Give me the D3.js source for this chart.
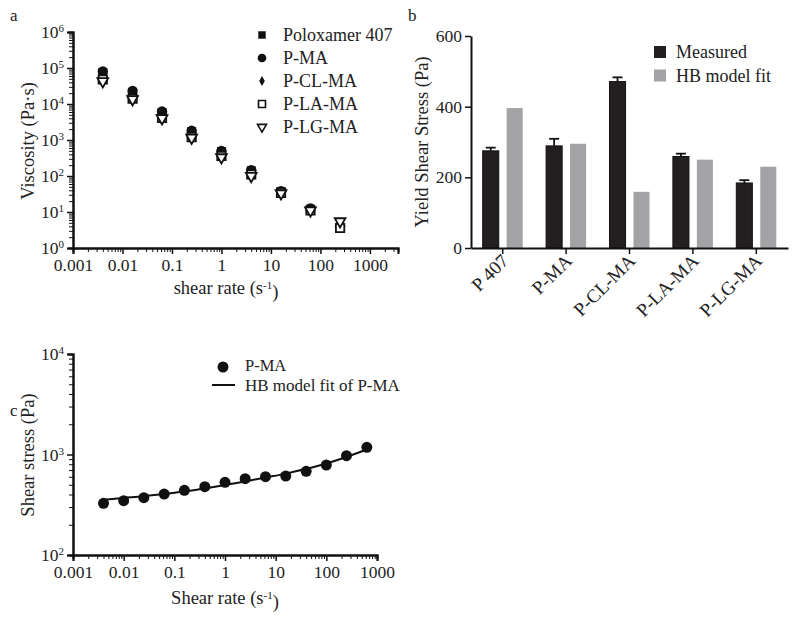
<!DOCTYPE html>
<html>
<head>
<meta charset="utf-8">
<script src="https://cdn.jsdelivr.net/npm/d3@7"></script>
<style>
  body { margin: 0; background: #fff; }
  svg { display: block; }
  text { font-family: "Liberation Serif", "DejaVu Serif", serif; fill: #222; }
</style>
</head>
<body>
<svg id="chart" width="800" height="619"></svg>
<script>
// ---------- Panel a data ----------
const shearRatesA = [0.004, 0.016, 0.063, 0.25, 1, 4, 16, 63, 250];
const seriesNamesA = ["Poloxamer 407", "P-MA", "P-CL-MA", "P-LA-MA", "P-LG-MA"];
const viscPoloxamer = [75000, 21000, 5800, 1700, 480, 140, 37, 12, 3.7];
const viscPMA       = [80000, 23000, 6200, 1800, 500, 145, 38, 12.5, 4.0];
const viscPCLMA     = [60000, 18000, 5000, 1500, 420, 125, 36, 11.5, 4.2];
const viscPLAMA     = [48000, 14000, 4100, 1200, 360, 110, 34, 11, 3.6];
const viscPLGMA     = [43000, 13500, 4000, 1150, 330, 100, 33, 11, 5.5];
const yTicksA = [1, 10, 100, 1000, 10000, 100000, 1000000];
const xTicks = [0.001, 0.01, 0.1, 1, 10, 100, 1000];
const xTickLabels = ["0.001", "0.01", "0.1", "1", "10", "100", "1000"];

// ---------- Panel b data ----------
const categoriesB = ["P 407", "P-MA", "P-CL-MA", "P-LA-MA", "P-LG-MA"];
const measured = [275, 289, 471, 259, 184];
const measuredErr = [9, 20, 12, 8, 8];
const hbFit = [396, 295, 159, 250, 230];
const seriesB = ["Measured", "HB model fit"];
const yTicksB = [0, 200, 400, 600];

// ---------- Panel c data ----------
const shearRatesC = [0.004, 0.01, 0.025, 0.063, 0.158, 0.4, 1, 2.5, 6.3, 15.8, 40, 100, 250, 630];
const stressPMA = [327, 347, 372, 404, 440, 478, 529, 574, 601, 611, 681, 786, 973, 1180];
const stressHBfit = [355, 370, 385, 405, 428, 460, 497, 540, 590, 645, 720, 815, 945, 1120];
const yTicksC = [100, 1000, 10000];

const svg = d3.select("#chart");

function minorTicks(lo, hi) {
  const out = [];
  for (let e = Math.floor(Math.log10(lo)); e <= Math.ceil(Math.log10(hi)); e++) {
    for (let m = 2; m <= 9; m++) {
      const v = m * Math.pow(10, e);
      if (v >= lo * 0.999 && v <= hi * 1.001) out.push(v);
    }
  }
  return out;
}

function powLabel(sel) {
  sel.each(function(d) {
    const t = d3.select(this);
    const e = Math.round(Math.log10(d));
    t.text(null);
    t.append("tspan").text("10");
    t.append("tspan").attr("dy", "-0.55em").attr("font-size", "11px").text(String(e));
  });
}

function styleAxis(g) {
  g.select(".domain").attr("stroke", "#111").attr("stroke-width", 2);
  g.selectAll(".tick line").attr("stroke", "#111").attr("stroke-width", 1.5);
  g.selectAll(".tick text").attr("font-size", "17.5px").attr("fill", "#222")
    .attr("font-family", "Liberation Serif, serif");
}

function logXAxis(x, y0, lo, hi) {
  const gMinor = svg.append("g").attr("transform", `translate(0,${y0})`)
    .call(d3.axisBottom(x).tickValues(minorTicks(lo, hi)).tickSize(4).tickFormat(""));
  styleAxis(gMinor);
  gMinor.selectAll(".tick line").attr("stroke-width", 1);
  const gMajor = svg.append("g").attr("transform", `translate(0,${y0})`)
    .call(d3.axisBottom(x).tickValues(xTicks.filter(v => v >= lo && v <= hi)).tickSize(6).tickPadding(5)
      .tickFormat(d => xTickLabels[xTicks.indexOf(d)]));
  styleAxis(gMajor);
}

function logYAxis(y, x0, ticks, lo, hi) {
  const gMinor = svg.append("g").attr("transform", `translate(${x0},0)`)
    .call(d3.axisLeft(y).tickValues(minorTicks(lo, hi)).tickSize(4).tickFormat(""));
  styleAxis(gMinor);
  gMinor.selectAll(".tick line").attr("stroke-width", 1);
  const gMajor = svg.append("g").attr("transform", `translate(${x0},0)`)
    .call(d3.axisLeft(y).tickValues(ticks).tickSize(6).tickPadding(3));
  styleAxis(gMajor);
  gMajor.selectAll(".tick text").call(powLabel);
}

// ================= Panel a =================
const xA = d3.scaleLog().domain([0.001, 3700]).range([73, 398]);
const yA = d3.scaleLog().domain([1, 1e6]).range([248, 32]);

svg.append("text").attr("x", 10).attr("y", 21).attr("font-size", "17px").text("a");

const symbolsA = [
  {type: d3.symbolSquare, size: 80, fill: "#111", stroke: "none", rot: 0},
  {type: d3.symbolCircle, size: 85, fill: "#111", stroke: "none", rot: 0},
  {type: d3.symbolDiamond, size: 40, fill: "#111", stroke: "none", rot: 0},
  {type: d3.symbolSquare, size: 70, fill: "#fff", stroke: "#111", rot: 0},
  {type: d3.symbolTriangle, size: 50, fill: "#fff", stroke: "#111", rot: 180}
];
const valuesA = [viscPoloxamer, viscPMA, viscPCLMA, viscPLAMA, viscPLGMA];

logXAxis(xA, 248, 0.001, 3700);
logYAxis(yA, 73, yTicksA, 1, 1e6);

valuesA.forEach((vals, si) => {
  const s = symbolsA[si];
  svg.append("g").selectAll("path").data(vals).join("path")
    .attr("d", d3.symbol().type(s.type).size(s.size))
    .attr("transform", (d, i) => `translate(${xA(shearRatesA[i])},${yA(d)}) rotate(${s.rot})`)
    .attr("fill", s.fill).attr("stroke", s.stroke).attr("stroke-width", 1.8);
});

// legend a
const legA = svg.append("g");
seriesNamesA.forEach((name, i) => {
  const s = symbolsA[i];
  const cy = 35 + i * 23;
  legA.append("path").attr("d", d3.symbol().type(s.type).size(s.size * 0.7))
    .attr("transform", `translate(262,${cy}) rotate(${s.rot})`)
    .attr("fill", s.fill).attr("stroke", s.stroke).attr("stroke-width", 1.6);
  legA.append("text").attr("x", 283).attr("y", cy + 6).attr("font-size", "18px").text(name);
});

// axis titles a
svg.append("text").attr("transform", "translate(34,141) rotate(-90)").attr("text-anchor", "middle")
  .attr("font-size", "18.5px").text("Viscosity (Pa·s)");
const xtA = svg.append("text").attr("x", 226).attr("y", 294).attr("text-anchor", "middle").attr("font-size", "18.5px");
xtA.append("tspan").text("shear rate (s");
xtA.append("tspan").attr("dy", "-0.5em").attr("font-size", "11px").text("-1");
xtA.append("tspan").attr("dy", "0.5em").text(")");

// ================= Panel b =================
const xB = d3.scaleBand().domain(categoriesB).range([471, 788]);
const xInner = d3.scaleBand().domain(seriesB).range([-20, 20]).paddingInner(0.33);
const yB = d3.scaleLinear().domain([0, 600]).range([248, 36]);

svg.append("text").attr("x", 408).attr("y", 21).attr("font-size", "17px").text("b");

const gB = svg.append("g");
gB.selectAll("rect.hb").data(hbFit).join("rect").attr("class", "hb")
  .attr("x", (d, i) => xB(categoriesB[i]) + xB.bandwidth() / 2 + xInner("HB model fit"))
  .attr("width", xInner.bandwidth())
  .attr("y", d => yB(d)).attr("height", d => yB(0) - yB(d))
  .attr("fill", "#a3a3a5");
categoriesB.forEach((c, i) => {
  const cx = xB(c) + xB.bandwidth() / 2 + xInner("Measured") + xInner.bandwidth() / 2;
  gB.append("line").attr("x1", cx).attr("x2", cx).attr("y1", yB(measured[i]))
    .attr("y2", yB(measured[i] + measuredErr[i])).attr("stroke", "#111").attr("stroke-width", 1.8);
  gB.append("line").attr("x1", cx - 5).attr("x2", cx + 5).attr("y1", yB(measured[i] + measuredErr[i]))
    .attr("y2", yB(measured[i] + measuredErr[i])).attr("stroke", "#111").attr("stroke-width", 1.8);
});
gB.selectAll("rect.ms").data(measured).join("rect").attr("class", "ms")
  .attr("x", (d, i) => xB(categoriesB[i]) + xB.bandwidth() / 2 + xInner("Measured"))
  .attr("width", xInner.bandwidth())
  .attr("y", d => yB(d)).attr("height", d => yB(0) - yB(d))
  .attr("fill", "#231f20").attr("stroke", "#111").attr("stroke-width", 1);

const gxB = svg.append("g").attr("transform", "translate(0,248)")
  .call(d3.axisBottom(xB).tickSize(6).tickSizeOuter(0).tickFormat(""));
styleAxis(gxB);
gxB.selectAll(".tick").each(function(d) {
  const tx = xB(d) + xB.bandwidth() / 2;
  svg.append("text").attr("text-anchor", "end").attr("font-size", "19px")
    .attr("transform", `translate(${tx + 7},${262}) rotate(-45)`).text(d);
});
const gyB = svg.append("g").attr("transform", "translate(471,0)")
  .call(d3.axisLeft(yB).tickValues(yTicksB).tickSize(6).tickSizeOuter(0).tickPadding(3));
styleAxis(gyB);

svg.append("text").attr("transform", "translate(428,142) rotate(-90)").attr("text-anchor", "middle")
  .attr("font-size", "18.5px").text("Yield Shear Stress (Pa)");

seriesB.forEach((name, i) => {
  const cy = 52 + i * 23.5;
  svg.append("rect").attr("x", 654).attr("y", cy - 6).attr("width", 12).attr("height", 12)
    .attr("fill", i === 0 ? "#231f20" : "#a3a3a5");
  svg.append("text").attr("x", 676).attr("y", cy + 6).attr("font-size", "18px").text(name);
});

// ================= Panel c =================
const xC = d3.scaleLog().domain([0.001, 1000]).range([73, 377]);
const yC = d3.scaleLog().domain([100, 10000]).range([555, 354]);

svg.append("text").attr("x", 10).attr("y", 416).attr("font-size", "17px").text("c");

logXAxis(xC, 555, 0.001, 1000);
logYAxis(yC, 73, yTicksC, 100, 10000);

svg.append("path").datum(stressHBfit)
  .attr("d", d3.line().x((d, i) => xC(shearRatesC[i])).y(d => yC(d)).curve(d3.curveMonotoneX))
  .attr("fill", "none").attr("stroke", "#111").attr("stroke-width", 2);
svg.append("g").selectAll("circle").data(stressPMA).join("circle")
  .attr("cx", (d, i) => xC(shearRatesC[i])).attr("cy", d => yC(d)).attr("r", 5.5).attr("fill", "#111");

// legend c
svg.append("circle").attr("cx", 223).attr("cy", 367).attr("r", 5.5).attr("fill", "#111");
svg.append("text").attr("x", 245).attr("y", 371).attr("font-size", "16.5px").text("P-MA");
svg.append("line").attr("x1", 212).attr("x2", 235).attr("y1", 385).attr("y2", 385)
  .attr("stroke", "#111").attr("stroke-width", 2);
svg.append("text").attr("x", 245).attr("y", 391).attr("font-size", "17px").text("HB model fit of P-MA");

svg.append("text").attr("transform", "translate(34,455) rotate(-90)").attr("text-anchor", "middle")
  .attr("font-size", "18.5px").text("Shear stress (Pa)");
const xtC = svg.append("text").attr("x", 225).attr("y", 604).attr("text-anchor", "middle").attr("font-size", "18.5px");
xtC.append("tspan").text("Shear rate (s");
xtC.append("tspan").attr("dy", "-0.5em").attr("font-size", "11px").text("-1");
xtC.append("tspan").attr("dy", "0.5em").text(")");
</script>
</body>
</html>
